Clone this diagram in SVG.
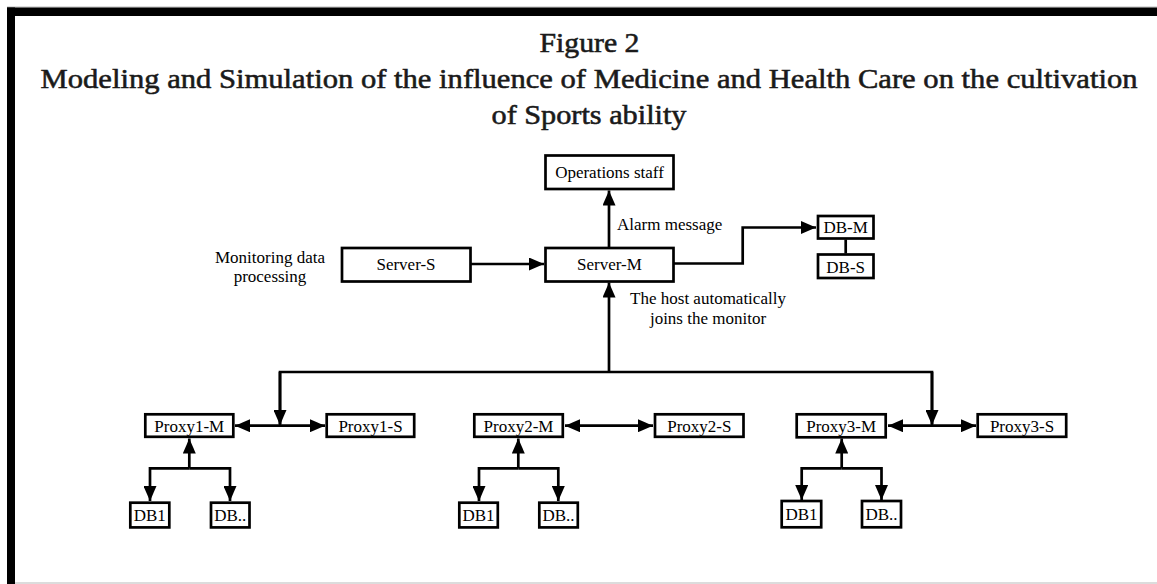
<svg xmlns="http://www.w3.org/2000/svg" width="1157" height="584" viewBox="0 0 1157 584">
<style>
.title{font-family:"Liberation Serif","Times New Roman",serif;font-weight:normal;font-size:27px;fill:#1a1a1a;stroke:#1a1a1a;stroke-width:0.55;text-anchor:middle}
.box{fill:#fff;stroke:#000;stroke-width:2.7}
.lbl{font-family:"Liberation Serif","Times New Roman",serif;font-size:17px;fill:#000;text-anchor:middle}
.note{font-family:"Liberation Serif","Times New Roman",serif;font-size:17px;fill:#000}
.ln{fill:none;stroke:#000;stroke-width:2.7}
.arr{marker-end:url(#ah)}
.dbl{marker-end:url(#ah);marker-start:url(#ahs)}
</style>
<defs>
<marker id="ah" markerUnits="userSpaceOnUse" markerWidth="16" markerHeight="13" refX="15" refY="6.5" orient="auto">
<path d="M0,0 L15,6.5 L0,13 z" fill="#000"/>
</marker>
<marker id="ahs" markerUnits="userSpaceOnUse" markerWidth="16" markerHeight="13" refX="15" refY="6.5" orient="auto-start-reverse">
<path d="M0,0 L15,6.5 L0,13 z" fill="#000"/>
</marker>
</defs>
<rect x="0" y="0" width="1157" height="584" fill="#fff"/>
<g id="frame">
<line x1="7" y1="7" x2="1157" y2="7" stroke="#b8b8b8" stroke-width="1"/>
<rect x="7" y="7.5" width="1150" height="8.5" fill="#000"/>
<rect x="7" y="7.5" width="8" height="576.5" fill="#000"/>
<line x1="15" y1="583" x2="1157" y2="583" stroke="#d0d0d0" stroke-width="1.5"/>
</g>
<g id="title">
<text class="title" x="589.5" y="52.3" textLength="100" lengthAdjust="spacingAndGlyphs">Figure 2</text>
<text class="title" x="589" y="88.3" textLength="1097" lengthAdjust="spacingAndGlyphs">Modeling and Simulation of the influence of Medicine and Health Care on the cultivation</text>
<text class="title" x="589" y="124" textLength="195" lengthAdjust="spacingAndGlyphs">of Sports ability</text>
</g>
<g id="connectors">
<line class="ln arr" x1="609" y1="247" x2="609" y2="190.5"/>
<line class="ln arr" x1="471" y1="264" x2="544" y2="264"/>
<polyline class="ln arr" points="674,263.5 742.7,263.5 742.7,227.5 816,227.5"/>
<line class="ln" x1="845.7" y1="239.5" x2="845.7" y2="253.5"/>
<polyline class="ln" points="280,424 280,372 932,372 932,424"/>
<line class="ln arr" x1="609" y1="372" x2="609" y2="282.5"/>
<line class="ln arr" x1="280" y1="372" x2="280" y2="425"/>
<line class="ln arr" x1="932" y1="372" x2="932" y2="425"/>
<line class="ln dbl" x1="235" y1="425.7" x2="325" y2="425.7"/>
<line class="ln dbl" x1="565" y1="425.7" x2="653" y2="425.7"/>
<line class="ln dbl" x1="888" y1="425.7" x2="976" y2="425.7"/>
<line class="ln arr" x1="189.3" y1="468.3" x2="189.3" y2="438.5"/>
<polyline class="ln arr" points="189.3,468.3 150,468.3 150,501"/>
<polyline class="ln arr" points="189.3,468.3 230,468.3 230,501"/>
<line class="ln arr" x1="518.3" y1="468.3" x2="518.3" y2="438.5"/>
<polyline class="ln arr" points="518.3,468.3 479,468.3 479,501"/>
<polyline class="ln arr" points="518.3,468.3 558.3,468.3 558.3,501"/>
<line class="ln arr" x1="841.7" y1="468.3" x2="841.7" y2="438.5"/>
<polyline class="ln arr" points="841.7,468.3 801.7,468.3 801.7,500"/>
<polyline class="ln arr" points="841.7,468.3 881.5,468.3 881.5,500"/>
</g>
<g id="labels">
<text class="lbl" x="270" y="262.5">Monitoring data</text>
<text class="lbl" x="270" y="281.5">processing</text>
<text class="note" x="617" y="229.5">Alarm message</text>
<text class="lbl" x="708" y="304">The host automatically</text>
<text class="lbl" x="708" y="324">joins the monitor</text>
</g>
<g id="ops"><rect class="box" x="545.5" y="155.5" width="128" height="33.5"/><text class="lbl" x="609.5" y="178.3">Operations staff</text></g>
<g id="server-s"><rect class="box" x="342" y="248" width="128.5" height="33.5"/><text class="lbl" x="406" y="269.5">Server-S</text></g>
<g id="server-m"><rect class="box" x="545.5" y="248" width="128" height="33.5"/><text class="lbl" x="609.5" y="269.5">Server-M</text></g>
<g id="db-m"><rect class="box" x="818" y="216" width="55.5" height="22.5"/><text class="lbl" x="845.7" y="233.3">DB-M</text></g>
<g id="db-s"><rect class="box" x="818" y="254.5" width="55.5" height="23.5"/><text class="lbl" x="845.7" y="272.7">DB-S</text></g>
<g id="proxy1-m"><rect class="box" x="145.3" y="414.3" width="88" height="22.5"/><text class="lbl" x="189.3" y="431.7">Proxy1-M</text></g>
<g id="proxy1-s"><rect class="box" x="326.7" y="414.3" width="87.5" height="22.5"/><text class="lbl" x="370.5" y="431.7">Proxy1-S</text></g>
<g id="proxy2-m"><rect class="box" x="474.3" y="414.3" width="88.5" height="22.5"/><text class="lbl" x="518.5" y="431.7">Proxy2-M</text></g>
<g id="proxy2-s"><rect class="box" x="655" y="414.3" width="88.5" height="22.5"/><text class="lbl" x="699.3" y="431.7">Proxy2-S</text></g>
<g id="proxy3-m"><rect class="box" x="796.7" y="414.3" width="89" height="23"/><text class="lbl" x="841.2" y="431.7">Proxy3-M</text></g>
<g id="proxy3-s"><rect class="box" x="977.7" y="414.3" width="88.5" height="22.5"/><text class="lbl" x="1022" y="431.7">Proxy3-S</text></g>
<g id="p1-db1"><rect class="box" x="130.3" y="502.7" width="39" height="24.7"/><text class="lbl" x="149.8" y="520.7">DB1</text></g>
<g id="p1-dbn"><rect class="box" x="211" y="502.7" width="38.5" height="24.7"/><text class="lbl" x="230.3" y="520.7">DB..</text></g>
<g id="p2-db1"><rect class="box" x="459.3" y="502.7" width="38.5" height="24.7"/><text class="lbl" x="478.5" y="520.7">DB1</text></g>
<g id="p2-dbn"><rect class="box" x="539.3" y="502.7" width="38.5" height="24.7"/><text class="lbl" x="558.5" y="520.7">DB..</text></g>
<g id="p3-db1"><rect class="box" x="781.7" y="501" width="39.5" height="26.3"/><text class="lbl" x="801.5" y="520">DB1</text></g>
<g id="p3-dbn"><rect class="box" x="862" y="501" width="39" height="26.3"/><text class="lbl" x="881.5" y="520">DB..</text></g>
</svg>
